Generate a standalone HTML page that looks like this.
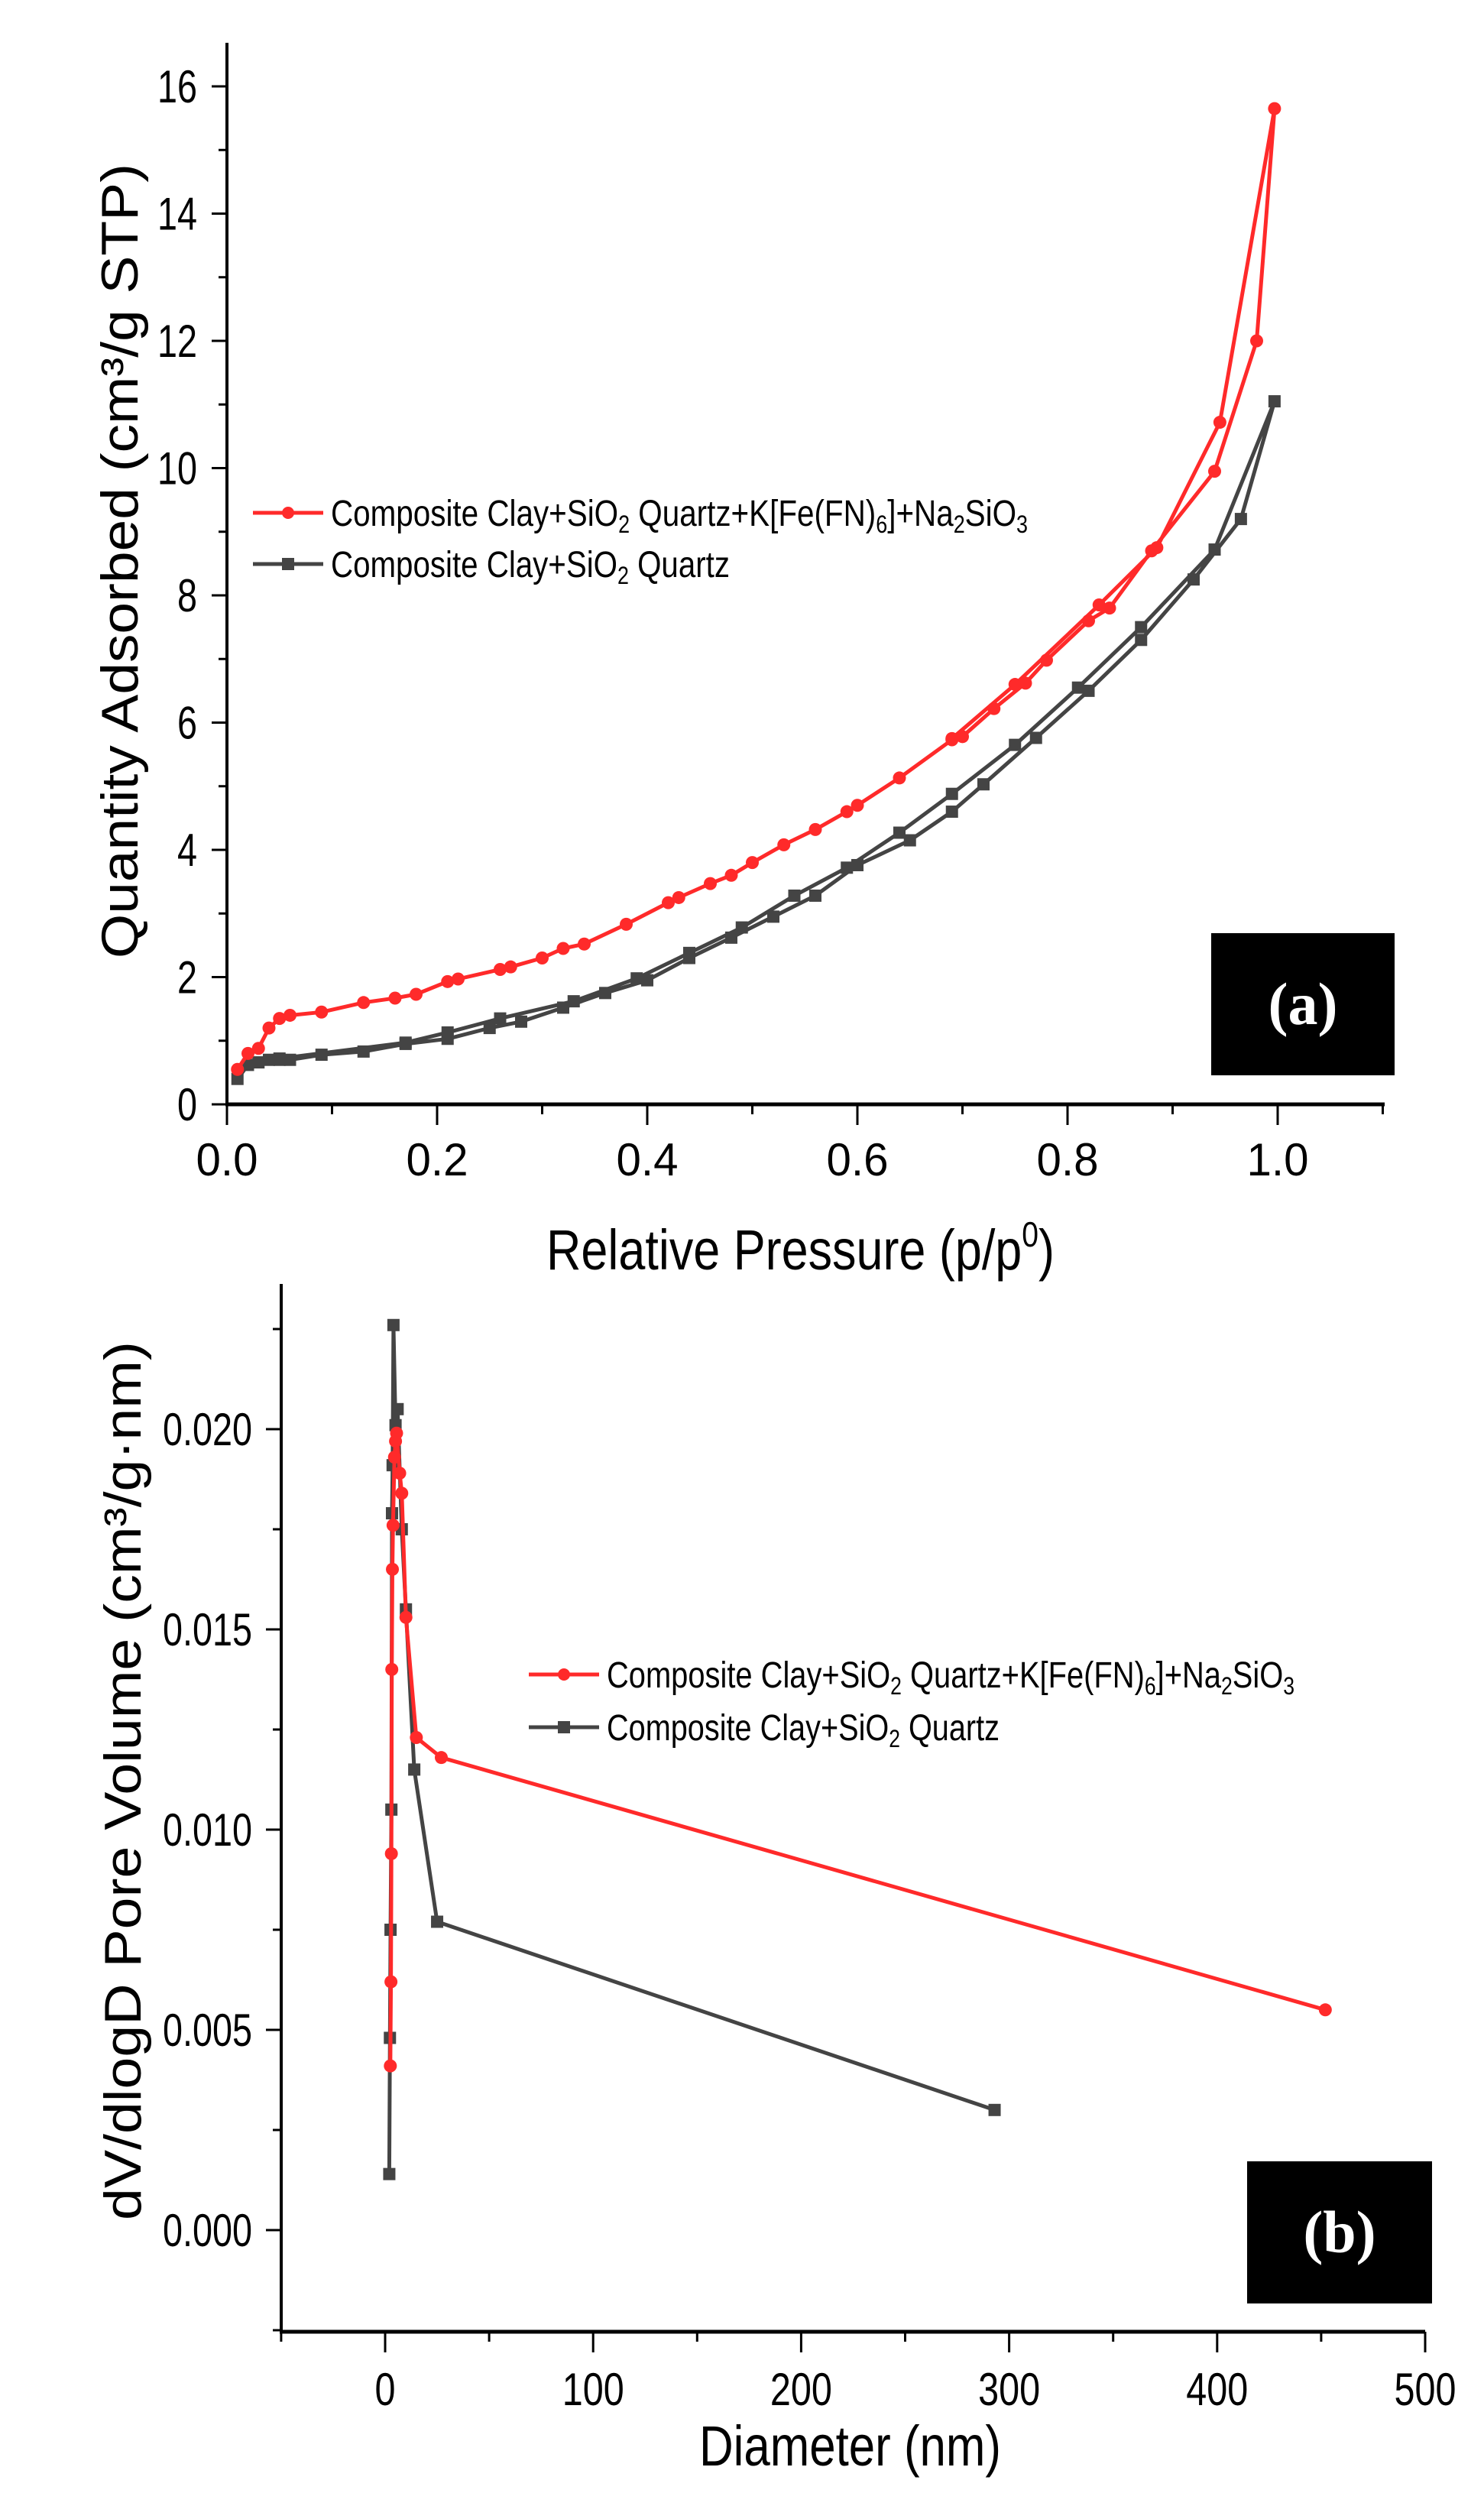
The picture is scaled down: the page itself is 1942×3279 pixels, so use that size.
<!DOCTYPE html>
<html><head><meta charset="utf-8"><style>
html,body{margin:0;padding:0;background:#fff;}
svg{display:block;}
</style></head><body>
<svg id="fig" width="1942" height="3279" viewBox="0 0 1942 3279" xmlns="http://www.w3.org/2000/svg" font-family="Liberation Sans, Arial, sans-serif">
<g id="chartA"></g>
<g id="chartB"></g>
</svg>
<script>
// ---- Chart (a) data ----
const aRedX = [0.01,0.02,0.03,0.04,0.05,0.06,0.09,0.13,0.16,0.18,0.21,0.22,0.26,0.27,0.30,0.32,0.34,0.38,0.42,0.43,0.46,0.48,0.50,0.53,0.56,0.59,0.60,0.64,0.69,0.70,0.73,0.76,0.78,0.82,0.84,0.88,0.94,0.98,0.997,0.945,0.885,0.83,0.75,0.69];
const aRedY = [0.55,0.80,0.88,1.20,1.35,1.40,1.45,1.60,1.67,1.73,1.93,1.97,2.12,2.16,2.30,2.45,2.52,2.83,3.17,3.25,3.47,3.60,3.80,4.08,4.32,4.60,4.70,5.13,5.73,5.78,6.22,6.62,6.98,7.60,7.80,8.70,9.95,12.00,15.65,10.72,8.75,7.85,6.60,5.75];
const aGrayX = [0.01,0.02,0.03,0.04,0.05,0.06,0.09,0.13,0.17,0.21,0.25,0.28,0.32,0.36,0.40,0.44,0.48,0.52,0.56,0.60,0.65,0.69,0.72,0.77,0.82,0.87,0.92,0.965,0.997,0.94,0.87,0.81,0.75,0.69,0.64,0.59,0.54,0.49,0.44,0.39,0.33,0.26,0.21,0.17,0.05];
const aGrayY = [0.40,0.62,0.66,0.70,0.70,0.70,0.78,0.83,0.95,1.03,1.20,1.30,1.52,1.75,1.95,2.30,2.62,2.95,3.28,3.76,4.15,4.60,5.03,5.76,6.50,7.30,8.25,9.20,11.05,8.72,7.50,6.55,5.65,4.88,4.27,3.72,3.28,2.78,2.38,1.98,1.62,1.35,1.13,0.97,0.72];
const aXTicks = [0.0,0.2,0.4,0.6,0.8,1.0];
const aXTickLabels = ["0.0","0.2","0.4","0.6","0.8","1.0"];
const aYTicks = [0,2,4,6,8,10,12,14,16];
const aYTickLabels = ["0","2","4","6","8","10","12","14","16"];
// ---- Chart (b) data ----
const bRedX = [2.5,2.8,3.0,3.2,3.5,3.8,4.5,5.0,5.5,7.0,8.0,10,15,27,452];
const bRedY = [0.0041,0.0062,0.0094,0.0140,0.0165,0.0176,0.0193,0.0197,0.0199,0.0189,0.0184,0.0153,0.0123,0.0118,0.0055];
const bGrayX = [2.0,2.3,2.6,3.0,3.3,3.6,4.0,5.0,6.0,8.0,10,14,25,293];
const bGrayY = [0.0014,0.0048,0.0075,0.0105,0.0179,0.0191,0.0226,0.0201,0.0205,0.0175,0.0155,0.0115,0.0077,0.0030];
const bXTicks = [0,100,200,300,400,500];
const bXTickLabels = ["0","100","200","300","400","500"];
const bYTicks = [0,0.005,0.010,0.015,0.020];
const bYTickLabels = ["0.000","0.005","0.010","0.015","0.020"];

const NS = "http://www.w3.org/2000/svg";
function mk(parent, tag, attrs){
  const e = document.createElementNS(NS, tag);
  for (const k in attrs) e.setAttribute(k, attrs[k]);
  parent.appendChild(e);
  return e;
}
const RED = "#ff2a2a", GRAY = "#444444";

function drawChart(g, o){
  const sx = v => o.x0 + (v - o.xmin) / (o.xmax - o.xmin) * (o.x1 - o.x0);
  const sy = v => o.y0 + (v - o.ymin) / (o.ymax - o.ymin) * (o.y1 - o.y0);
  const ya = mk(g,'line',{x1:o.axX,y1:o.axTop,x2:o.axX,y2:o.axY,stroke:'#000','stroke-width':4});
   
  const xa = mk(g,'line',{x1:o.axX-2,y1:o.axY,x2:o.axRight,y2:o.axY,stroke:'#000','stroke-width':5});
   
  o.xMinor.forEach(v=>{
    const t = mk(g,'line',{x1:sx(v),y1:o.axY,x2:sx(v),y2:o.axY+13,stroke:'#000','stroke-width':3});
     
  });
  o.xTicks.forEach((v,i)=>{
    const t = mk(g,'line',{x1:sx(v),y1:o.axY,x2:sx(v),y2:o.axY+27,stroke:'#000','stroke-width':3});
     
    const lbl = o.xLabels[i];
    const tx = mk(g,'text',{x:sx(v),y:o.xLabelY,'font-size':60,'text-anchor':'middle',textLength:lbl.length*27,lengthAdjust:'spacingAndGlyphs',fill:'#000'});
    tx.textContent = lbl;
     
  });
  o.yMinor.forEach(v=>{
    const t = mk(g,'line',{x1:o.axX-11,y1:sy(v),x2:o.axX,y2:sy(v),stroke:'#000','stroke-width':3});
     
  });
  o.yTicks.forEach((v,i)=>{
    const t = mk(g,'line',{x1:o.axX-20,y1:sy(v),x2:o.axX,y2:sy(v),stroke:'#000','stroke-width':3});
     
    const lbl = o.yLabels[i];
    const w = lbl.replace('.','').length*26 + (lbl.includes('.')?13:0);
    const tx = mk(g,'text',{x:o.yLabelX,y:sy(v)+21,'font-size':60,'text-anchor':'end',textLength:w,lengthAdjust:'spacingAndGlyphs',fill:'#000'});
    tx.textContent = lbl;
     
  });
  function series(xs, ys, color, shape, name){
    const sg = mk(g,'g',{});
    
    
    const pts = xs.map((x,i)=>sx(x).toFixed(1)+','+sy(ys[i]).toFixed(1)).join(' ');
    const pl = mk(sg,'polyline',{points:pts,fill:'none',stroke:color,'stroke-width':5,'stroke-linejoin':'round'});
     
    xs.forEach((x,i)=>{
      let m;
      if (shape==='circle') m = mk(sg,'circle',{cx:sx(x),cy:sy(ys[i]),r:8.5,fill:color});
      else m = mk(sg,'rect',{x:sx(x)-8,y:sy(ys[i])-8,width:16,height:16,fill:color});
       
    });
  }
  series(o.grayX,o.grayY,GRAY,'square','series-clay-sio2');
  series(o.redX,o.redY,RED,'circle','series-composite-kfe');
  const lg = mk(g,'g',{});
   
  const entries = [
    {c:RED,shape:'circle',y:o.legY[0],w:o.legW[0],parts:[['Composite Clay+SiO',0],['2',1],[' Quartz+K[Fe(FN)',0],['6',1],[']+Na',0],['2',1],['SiO',0],['3',1]]},
    {c:GRAY,shape:'square',y:o.legY[1],w:o.legW[1],parts:[['Composite Clay+SiO',0],['2',1],[' Quartz',0]]}
  ];
  entries.forEach((e,k)=>{
    const eg = mk(lg,'g',{});
    
    
    mk(eg,'line',{x1:o.legX0,y1:e.y,x2:o.legX0+92,y2:e.y,stroke:e.c,'stroke-width':5});
    if (e.shape==='circle') mk(eg,'circle',{cx:o.legX0+46,cy:e.y,r:8,fill:e.c});
    else mk(eg,'rect',{x:o.legX0+38,y:e.y-8,width:16,height:16,fill:e.c});
    const t = mk(eg,'text',{x:o.legX0+102,y:e.y+17,'font-size':48,fill:'#000',textLength:e.w,lengthAdjust:'spacingAndGlyphs'});
    let prevSub=false;
    e.parts.forEach(p=>{
      const ts = mk(t,'tspan',{});
      if (p[1]) { ts.setAttribute('font-size','32'); ts.setAttribute('dy','9'); prevSub=true; }
      else if (prevSub) { ts.setAttribute('dy','-9'); prevSub=false; }
      ts.textContent = p[0];
    });
  });
}

drawChart(document.getElementById('chartA'),{
  xmin:0,xmax:1,x0:297,x1:1672, ymin:0,ymax:16,y0:1445,y1:113,
  axX:297,axTop:56,axY:1445,axRight:1812,
  xTicks:aXTicks,xLabels:aXTickLabels,xMinor:[0.1,0.3,0.5,0.7,0.9,1.1],xLabelY:1538,
  yTicks:aYTicks,yLabels:aYTickLabels,yMinor:[1,3,5,7,9,11,13,15],yLabelX:258,
  redX:aRedX,redY:aRedY,grayX:aGrayX,grayY:aGrayY,
  legX0:331,legY:[671,738],legW:[912,522]
});
drawChart(document.getElementById('chartB'),{
  xmin:0,xmax:500,x0:504,x1:1865, ymin:0,ymax:0.020,y0:2918,y1:1870,
  axX:368,axTop:1680,axY:3051,axRight:1865,
  xTicks:bXTicks,xLabels:bXTickLabels,xMinor:[-50,50,150,250,350,450],xLabelY:3147,
  yTicks:bYTicks,yLabels:bYTickLabels,yMinor:[-0.0025,0.0025,0.0075,0.0125,0.0175,0.0225],yLabelX:330,
  redX:bRedX,redY:bRedY,grayX:bGrayX,grayY:bGrayY,
  legX0:692,legY:[2191,2260],legW:[900,514]
});
</script>
<div style="position:absolute;left:0;top:0;width:1942px;height:3279px;pointer-events:none">
<svg width="1942" height="3279" viewBox="0 0 1942 3279" font-family="Liberation Sans, Arial, sans-serif">
  <text transform="translate(180,734) rotate(-90)" text-anchor="middle" font-size="68" textLength="1040" lengthAdjust="spacingAndGlyphs">Quantity Adsorbed (cm³/g STP)</text>
  <text x="715" y="1661" font-size="74" textLength="665" lengthAdjust="spacingAndGlyphs">Relative Pressure (p/p<tspan font-size="46" dy="-30">0</tspan><tspan dy="30">)</tspan></text>
  <rect x="1585" y="1221" width="240" height="186" fill="#000"/>
  <text x="1705" y="1340" text-anchor="middle" font-family="Liberation Serif, serif" font-weight="bold" font-size="78" fill="#fff">(a)</text>
  <text transform="translate(184,2330) rotate(-90)" text-anchor="middle" font-size="68" textLength="1150" lengthAdjust="spacingAndGlyphs">dV/dlogD Pore Volume (cm³/g·nm)</text>
  <text x="915" y="3226" font-size="74" textLength="395" lengthAdjust="spacingAndGlyphs">Diameter (nm)</text>
  <rect x="1632" y="2828" width="242" height="186" fill="#000"/>
  <text x="1753" y="2947" text-anchor="middle" font-family="Liberation Serif, serif" font-weight="bold" font-size="78" fill="#fff">(b)</text>
</svg>
</div>
</body></html>
